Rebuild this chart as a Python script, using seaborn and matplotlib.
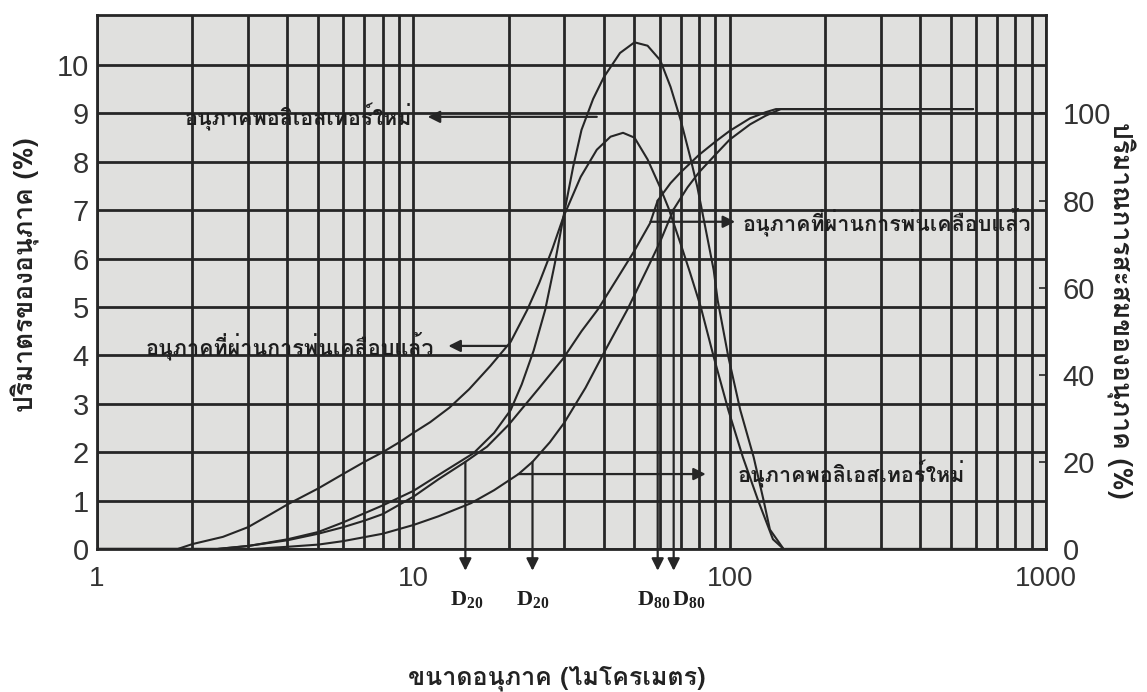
import numpy as np
import matplotlib
matplotlib.use("Agg")
import matplotlib.pyplot as plt
import seaborn as sns
from matplotlib import font_manager
from matplotlib.ticker import FixedLocator, LogLocator, NullFormatter, FixedFormatter

# particle size (micrometre) and values
# frequency curves (left axis, %)
coat_freq_x = [1, 1.8, 2.0, 2.5, 3.0, 3.5, 4.0, 5.0, 6.0, 7.0, 8.0, 9.0, 10, 11.3, 13, 15, 17.5,
               20.3, 22.9, 25, 27.5, 29.8, 33.8, 38, 42, 46, 50, 55, 60, 64, 70, 75, 81, 89,
               99, 110, 123, 137, 148, 600]
coat_freq_y = [0, 0, 0.1, 0.25, 0.45, 0.7, 0.92, 1.25, 1.55, 1.8, 2.0, 2.2, 2.4, 2.62, 2.92, 3.3, 3.78,
               4.28, 4.94, 5.5, 6.2, 6.86, 7.69, 8.25, 8.52, 8.6, 8.5, 8.05, 7.5, 7.05, 6.3, 5.7, 5.0, 3.97,
               2.87, 1.9, 1.0, 0.2, 0, 0]

new_freq_x = [1, 2.4, 3, 4, 5, 6, 8, 10, 12.5, 15.5, 18, 20.3, 22, 24, 26.1, 28, 29.8, 32, 34, 37,
              40, 45, 50, 55, 60.3, 65, 70, 75, 79, 84, 89, 91.6, 99, 108, 119, 128, 134, 148, 600]
new_freq_y = [0, 0, 0.06, 0.2, 0.35, 0.55, 0.9, 1.2, 1.6, 1.98, 2.4, 2.87, 3.4, 4.1, 4.94, 5.9, 6.86, 7.9, 8.66, 9.3,
              9.75, 10.25, 10.47, 10.4, 10.1, 9.55, 8.86, 8.1, 7.48, 6.6, 5.76, 5.14, 3.97, 2.87, 1.9, 1.0, 0.4, 0, 0]

# cumulative curves (right axis, %)
coat_cum_x = [1, 2.4, 3, 4, 5, 6, 7, 8, 10, 12, 14.6, 17.1, 20, 25, 29.8, 34, 38.3, 44, 50, 56,
              59.2, 65, 70, 80, 90, 100, 116, 130, 140, 588]
coat_cum_y = [0, 0, 0.7, 2, 3.5, 5, 6.5, 8, 12, 16, 20, 23.5, 28.5, 37, 43.8, 50, 55, 62, 68.5, 74.8,
              80, 84, 86.5, 90.5, 93.5, 96, 98.9, 100.3, 101, 101]

new_cum_x = [1, 3.1, 4, 5, 6, 8, 10, 12, 15.2, 18, 21.5, 23.8, 27, 30, 35, 40, 47.5, 55, 60.3,
             66.5, 73.5, 80, 90, 100, 116, 130, 145, 588]
new_cum_y = [0, 0, 0.5, 1.0, 1.8, 3.5, 5.5, 7.5, 10.5, 13.5, 17.2, 20, 24.5, 29, 37, 45, 55, 64.5, 70.6,
             78, 83, 86.5, 90.5, 94, 97.5, 99.5, 101, 101]

d_coat = [14.6, 59.2]   # D20, D80 coated
d_new = [23.8, 66.5]    # D20, D80 new

x_ticks = [1, 10, 100, 1000]
left_ticks = list(range(0, 11))
right_ticks = [0, 20, 40, 60, 80, 100]

lbl_new = "อนุภาคพอลิเอสเทอร์ใหม่"
lbl_coat = "อนุภาคที่ผ่านการพ่นเคลือบแล้ว"
y_left_title = "ปริมาตรของอนุภาค (%)"
y_right_title = "ปริมาณการสะสมของอนุภาค (%)"
x_title = "ขนาดอนุภาค (ไมโครเมตร)"


def pick_thai_font():
    try:
        from fontTools.ttLib import TTFont
    except ImportError:
        return "DejaVu Sans"
    for f in font_manager.fontManager.ttflist:
        try:
            tt = TTFont(f.fname, fontNumber=0, lazy=True)
            if 0x0E2D in tt.getBestCmap():
                return f.name
        except Exception:
            continue
    return "DejaVu Sans"


sns.set_style("white")
thai = pick_thai_font()
plt.rcParams["font.family"] = ["Liberation Sans Narrow", "Liberation Sans", thai, "DejaVu Sans"]
plt.rcParams["mathtext.fontset"] = "custom"
plt.rcParams["mathtext.rm"] = "Liberation Serif:bold"
plt.rcParams["mathtext.bf"] = "Liberation Serif:bold"

ink = "#262626"
ratio = 0.09          # 100 % cumulative sits on 9 of the left scale
ytop = 11.03

fig = plt.figure(figsize=(11.47, 6.92), dpi=100)
ax = fig.add_axes([0.0846, 0.2067, 0.8274, 0.7713])
ax.set_facecolor("#e0e0de")
ax.set_xscale("log")
ax.set_xlim(1, 1000)
ax.set_ylim(0, ytop)

ax.xaxis.set_major_locator(FixedLocator(x_ticks))
ax.xaxis.set_major_formatter(FixedFormatter([str(t) for t in x_ticks]))
ax.xaxis.set_minor_locator(LogLocator(base=10, subs=range(2, 10)))
ax.xaxis.set_minor_formatter(NullFormatter())
ax.set_yticks(left_ticks)
ax.grid(which="both", axis="x", color=ink, lw=2.0)
ax.grid(which="major", axis="y", color=ink, lw=2.0)
ax.set_axisbelow(True)
for s in ax.spines.values():
    s.set_color(ink)
    s.set_linewidth(2)

ax.tick_params(axis="both", which="both", length=0)
ax.tick_params(axis="y", labelsize=21, pad=6, labelcolor="#333333")
ax.tick_params(axis="x", labelsize=20, pad=12, labelcolor="#333333")

sns.lineplot(x=coat_freq_x, y=coat_freq_y, ax=ax, color=ink, lw=1.5, sort=False)
sns.lineplot(x=new_freq_x, y=new_freq_y, ax=ax, color=ink, lw=1.5, sort=False)

ax2 = ax.twinx()
ax2.set_ylim(0, ytop / ratio)
ax2.set_yticks(right_ticks)
ax2.tick_params(axis="y", direction="in", length=5, width=1.2, color=ink,
                labelsize=21, pad=12, labelcolor="#333333")
for s in ax2.spines.values():
    s.set_visible(False)
sns.lineplot(x=coat_cum_x, y=coat_cum_y, ax=ax2, color=ink, lw=1.5, sort=False)
sns.lineplot(x=new_cum_x, y=new_cum_y, ax=ax2, color=ink, lw=1.5, sort=False)

# axis titles
ax.set_ylabel(y_left_title, fontsize=19, fontweight="bold", family=[thai, "DejaVu Sans"], color="#222222")
ax.yaxis.set_label_coords(-0.060, 0.513)
ax2.set_ylabel(y_right_title, fontsize=19, fontweight="bold", family=[thai, "DejaVu Sans"],
               rotation=-90, va="center", color="#222222")
ax2.yaxis.set_label_coords(1.078, 0.448)
fig.text(557 / 1147, 1 - 678 / 692, x_title, fontsize=18, fontweight="bold",
         family=[thai, "DejaVu Sans"], ha="center", va="center", color="#222222")

arrow = dict(arrowstyle="-|>", color=ink, lw=1.6, mutation_scale=18, shrinkA=0, shrinkB=0)
tfont = dict(fontsize=15.5, fontweight="bold", family=[thai, "DejaVu Sans"], color="#1e1e1e", va="center")

lx = np.log10


def on_curve(xs, ys, x):
    return np.interp(lx(x), lx(xs), ys)


# left-pointing labels for the frequency curves
ax.annotate("", xy=(11.1, 8.93), xytext=(38, 8.93), arrowprops=arrow)
ax.text(9.9, 8.93, lbl_new, ha="right", **tfont)
y_c = on_curve(coat_freq_x, coat_freq_y, 19.8)
ax.annotate("", xy=(12.9, y_c), xytext=(19.8, y_c), arrowprops=arrow)
ax.text(11.6, y_c, lbl_coat, ha="right", **tfont)

# right-pointing labels for the cumulative curves
y_c = on_curve(coat_cum_x, coat_cum_y, 56.2) * ratio
ax.annotate("", xy=(104, y_c), xytext=(56.2, y_c), arrowprops=arrow)
ax.text(110, y_c, lbl_coat, ha="left", **tfont)
y_n = on_curve(new_cum_x, new_cum_y, 21.5) * ratio
ax.annotate("", xy=(84, y_n), xytext=(21.5, y_n), arrowprops=arrow)
ax.text(106, y_n, lbl_new, ha="left", **tfont)

# D20 / D80 drop lines
for d, (xs, ys) in [(d_coat[0], (coat_cum_x, coat_cum_y)), (d_new[0], (new_cum_x, new_cum_y)),
                    (d_coat[1], (coat_cum_x, coat_cum_y)), (d_new[1], (new_cum_x, new_cum_y))]:
    top = on_curve(xs, ys, d) * ratio
    ax.annotate("", xy=(d, -0.45), xytext=(d, top), arrowprops=arrow, annotation_clip=False)

# labels under the arrows; the two D80 labels sit side by side
for d, sub, dx in [(d_coat[0], "20", 1), (d_new[0], "20", 0), (d_coat[1], "80", -3), (d_new[1], "80", 11)]:
    ax.annotate(r"$\mathrm{D}_{\mathrm{%s}}$" % sub, xy=(d, -1.05), xytext=(dx, 0),
                textcoords="offset points", fontsize=16, ha="center", va="center",
                color="#1e1e1e", annotation_clip=False)

fig.savefig("out.png", dpi=100, facecolor="white")
